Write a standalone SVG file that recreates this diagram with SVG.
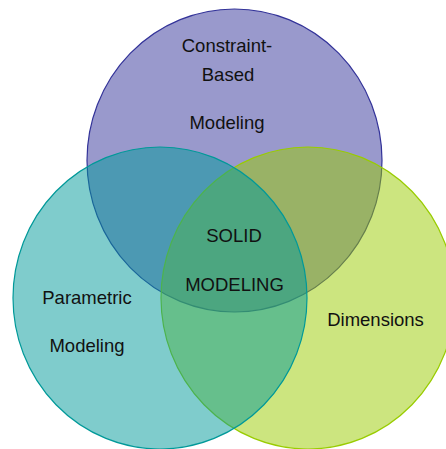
<svg xmlns="http://www.w3.org/2000/svg" width="446" height="449" viewBox="0 0 446 449">
  <style>
    .set { fill-opacity: 0.5; stroke-width: 1.2; }
    .lbl { font-family: "Liberation Sans", Arial, sans-serif; font-size: 18.5px; fill: #111; text-anchor: middle; }
  </style>
  <rect width="446" height="449" fill="#ffffff"/>
  <g id="constraint-based">
    <ellipse class="set" cx="234.5" cy="160.5" rx="147.5" ry="151.5" fill="#333399" stroke="#333399"/>
    <text class="lbl" x="227" y="52">Constraint-</text>
    <text class="lbl" x="228" y="81">Based</text>
    <text class="lbl" x="227" y="129">Modeling</text>
  </g>
  <g id="dimensions">
    <ellipse class="set" cx="308" cy="298" rx="147" ry="151" fill="#99cc00" stroke="#99cc00"/>
    <text class="lbl" x="375.5" y="326">Dimensions</text>
  </g>
  <g id="parametric">
    <ellipse class="set" cx="160" cy="298" rx="147" ry="151" fill="#009999" stroke="#009999"/>
    <text class="lbl" x="87" y="304">Parametric</text>
    <text class="lbl" x="87" y="352">Modeling</text>
  </g>
  <g id="solid-modeling">
    <text class="lbl" x="234" y="242">SOLID</text>
    <text class="lbl" x="234.5" y="291">MODELING</text>
  </g>
</svg>
